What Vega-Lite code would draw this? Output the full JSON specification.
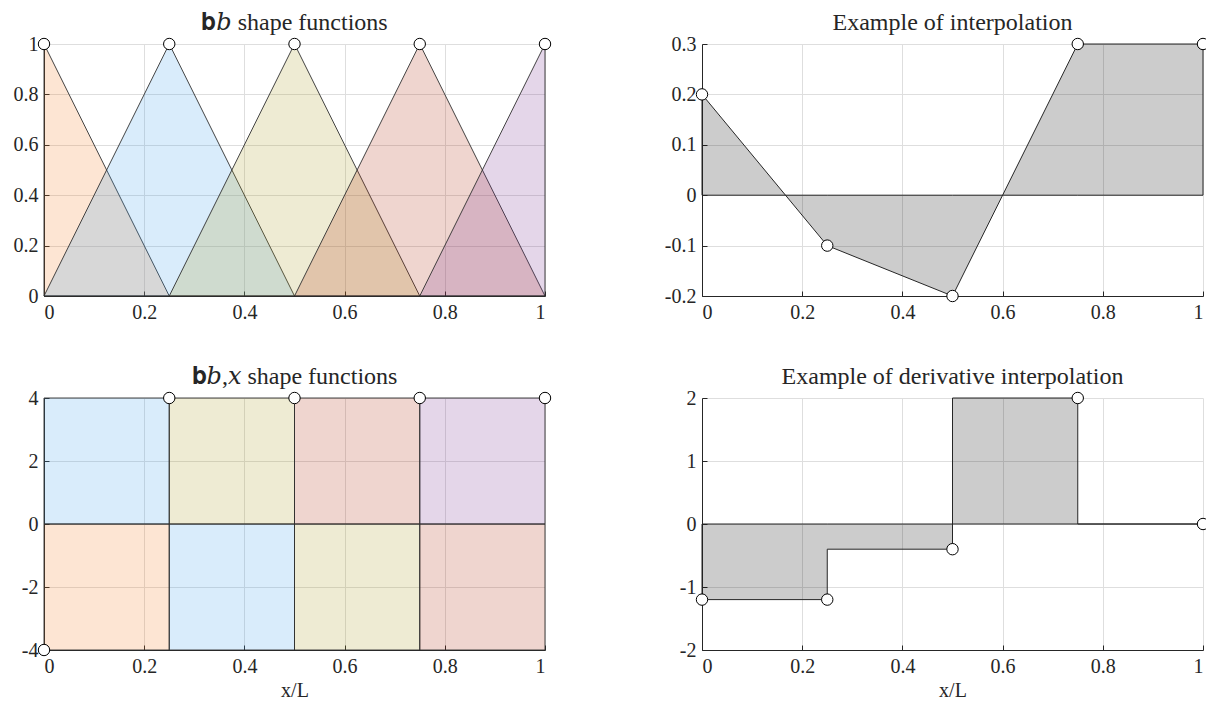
{
  "$schema": "https://vega.github.io/schema/vega-lite/v6.json",
  "background": "white",
  "padding": {"left": 13, "top": 11, "right": 0, "bottom": 0},
  "config": {
    "view": {"stroke": null},
    "font": "Liberation Serif",
    "axis": {
      "domainColor": "#262626",
      "domainWidth": 1,
      "tickColor": "#262626",
      "tickSize": -5,
      "labelPadding": 11,
      "gridColor": "#dedede",
      "gridWidth": 1,
      "labelFont": "Liberation Serif",
      "labelFontSize": 20,
      "labelColor": "#262626",
      "titleFont": "Liberation Serif",
      "titleFontSize": 20,
      "titleFontWeight": "normal",
      "titleColor": "#262626",
      "labelExpr": "replace(datum.label, '\u2212', '-')"
    },
    "title": {
      "font": "Liberation Serif, DejaVu Serif",
      "fontSize": 24,
      "fontWeight": "normal",
      "color": "#262626",
      "offset": -1
    },
    "point": {"shape": "circle", "filled": true, "fill": "white", "stroke": "black", "strokeWidth": 1, "size": 130, "opacity": 1}
  },
  "datasets": {
    "hats": [
      {"fn": "b1", "x": 0, "y": 1}, {"fn": "b1", "x": 0.25, "y": 0},
      {"fn": "b2", "x": 0, "y": 0}, {"fn": "b2", "x": 0.25, "y": 1}, {"fn": "b2", "x": 0.5, "y": 0},
      {"fn": "b3", "x": 0.25, "y": 0}, {"fn": "b3", "x": 0.5, "y": 1}, {"fn": "b3", "x": 0.75, "y": 0},
      {"fn": "b4", "x": 0.5, "y": 0}, {"fn": "b4", "x": 0.75, "y": 1}, {"fn": "b4", "x": 1, "y": 0},
      {"fn": "b5", "x": 0.75, "y": 0}, {"fn": "b5", "x": 1, "y": 1}
    ],
    "hatNodes": [
      {"x": 0, "y": 1}, {"x": 0.25, "y": 1}, {"x": 0.5, "y": 1}, {"x": 0.75, "y": 1}, {"x": 1, "y": 1}
    ],
    "slopes": [
      {"fn": "b1", "x0": 0, "x1": 0.25, "y0": -4, "y1": 0},
      {"fn": "b2", "x0": 0, "x1": 0.25, "y0": 0, "y1": 4},
      {"fn": "b2", "x0": 0.25, "x1": 0.5, "y0": -4, "y1": 0},
      {"fn": "b3", "x0": 0.25, "x1": 0.5, "y0": 0, "y1": 4},
      {"fn": "b3", "x0": 0.5, "x1": 0.75, "y0": -4, "y1": 0},
      {"fn": "b4", "x0": 0.5, "x1": 0.75, "y0": 0, "y1": 4},
      {"fn": "b4", "x0": 0.75, "x1": 1, "y0": -4, "y1": 0},
      {"fn": "b5", "x0": 0.75, "x1": 1, "y0": 0, "y1": 4}
    ],
    "slopeNodes": [
      {"x": 0, "y": -4}, {"x": 0.25, "y": 4}, {"x": 0.5, "y": 4}, {"x": 0.75, "y": 4}, {"x": 1, "y": 4}
    ],
    "interp": [
      {"x": 0, "y": 0.2}, {"x": 0.25, "y": -0.1}, {"x": 0.5, "y": -0.2}, {"x": 0.75, "y": 0.3}, {"x": 1, "y": 0.3}
    ],
    "deriv": [
      {"x": 0, "y": -1.2}, {"x": 0.25, "y": -0.4}, {"x": 0.5, "y": 2}, {"x": 0.75, "y": 0}, {"x": 1, "y": 0}
    ],
    "derivNodes": [
      {"x": 0, "y": -1.2}, {"x": 0.25, "y": -1.2}, {"x": 0.5, "y": -0.4}, {"x": 0.75, "y": 2}, {"x": 1, "y": 0}
    ]
  },
  "columns": 2,
  "bounds": "flush",
  "spacing": {"row": 102, "column": 157},
  "concat": [
    {
      "width": 501, "height": 252,
      "title": "𝐛𝑏 shape functions",
      "layer": [
        {
          "data": {"name": "hats"},
          "mark": {"type": "area", "fillOpacity": 0.2, "stroke": "#303030", "strokeWidth": 0.9},
          "encoding": {
            "x": {"field": "x", "type": "quantitative", "scale": {"domain": [0, 1], "nice": false},
                  "axis": {"title": null, "values": [0, 0.2, 0.4, 0.6, 0.8, 1], "format": "~g", "grid": true}},
            "y": {"field": "y", "type": "quantitative", "scale": {"domain": [0, 1], "nice": false},
                  "axis": {"title": null, "values": [0, 0.2, 0.4, 0.6, 0.8, 1], "format": "~g", "grid": true}},
            "y2": {"datum": 0},
            "color": {"field": "fn", "type": "nominal", "legend": null,
                      "scale": {"domain": ["b1", "b2", "b3", "b4", "b5"], "range": ["#F57D23", "#41A0EB", "#AA9B23", "#AF2D0F", "#783291"]}}
          }
        },
        {
          "data": {"name": "hatNodes"},
          "mark": {"type": "point", "clip": false},
          "encoding": {"x": {"field": "x", "type": "quantitative"}, "y": {"field": "y", "type": "quantitative"}}
        }
      ]
    },
    {
      "width": 501, "height": 252,
      "title": "Example of interpolation",
      "layer": [
        {
          "data": {"name": "interp"},
          "mark": {"type": "area", "fill": "black", "fillOpacity": 0.2, "stroke": "#262626", "strokeWidth": 1},
          "encoding": {
            "x": {"field": "x", "type": "quantitative", "scale": {"domain": [0, 1], "nice": false},
                  "axis": {"title": null, "values": [0, 0.2, 0.4, 0.6, 0.8, 1], "format": "~g", "grid": true}},
            "y": {"field": "y", "type": "quantitative", "scale": {"domain": [-0.2, 0.3], "nice": false, "zero": false},
                  "axis": {"title": null, "values": [-0.2, -0.1, 0, 0.1, 0.2, 0.3], "format": "~g", "grid": true}},
            "y2": {"datum": 0}
          }
        },
        {
          "data": {"name": "interp"},
          "mark": {"type": "point", "clip": false},
          "encoding": {"x": {"field": "x", "type": "quantitative"}, "y": {"field": "y", "type": "quantitative"}}
        }
      ]
    },
    {
      "width": 501, "height": 252,
      "title": "𝐛𝑏,𝑥 shape functions",
      "layer": [
        {
          "data": {"name": "slopes"},
          "mark": {"type": "rect", "fillOpacity": 0.2, "stroke": "#303030", "strokeWidth": 0.9},
          "encoding": {
            "x": {"field": "x0", "type": "quantitative", "scale": {"domain": [0, 1], "nice": false},
                  "axis": {"title": "x/L", "values": [0, 0.2, 0.4, 0.6, 0.8, 1], "format": "~g", "grid": true}},
            "x2": {"field": "x1"},
            "y": {"field": "y0", "type": "quantitative", "scale": {"domain": [-4, 4], "nice": false},
                  "axis": {"title": null, "values": [-4, -2, 0, 2, 4], "format": "~g", "grid": true}},
            "y2": {"field": "y1"},
            "color": {"field": "fn", "type": "nominal", "legend": null,
                      "scale": {"domain": ["b1", "b2", "b3", "b4", "b5"], "range": ["#F57D23", "#41A0EB", "#AA9B23", "#AF2D0F", "#783291"]}}
          }
        },
        {
          "data": {"name": "slopeNodes"},
          "mark": {"type": "point", "clip": false},
          "encoding": {"x": {"field": "x", "type": "quantitative"}, "y": {"field": "y", "type": "quantitative"}}
        }
      ]
    },
    {
      "width": 501, "height": 252,
      "title": "Example of derivative interpolation",
      "layer": [
        {
          "data": {"name": "deriv"},
          "mark": {"type": "area", "interpolate": "step-after", "fill": "black", "fillOpacity": 0.2, "stroke": "#262626", "strokeWidth": 1},
          "encoding": {
            "x": {"field": "x", "type": "quantitative", "scale": {"domain": [0, 1], "nice": false},
                  "axis": {"title": "x/L", "values": [0, 0.2, 0.4, 0.6, 0.8, 1], "format": "~g", "grid": true}},
            "y": {"field": "y", "type": "quantitative", "scale": {"domain": [-2, 2], "nice": false},
                  "axis": {"title": null, "values": [-2, -1, 0, 1, 2], "format": "~g", "grid": true}},
            "y2": {"datum": 0}
          }
        },
        {
          "data": {"name": "derivNodes"},
          "mark": {"type": "point", "clip": false},
          "encoding": {"x": {"field": "x", "type": "quantitative"}, "y": {"field": "y", "type": "quantitative"}}
        }
      ]
    }
  ]
}
